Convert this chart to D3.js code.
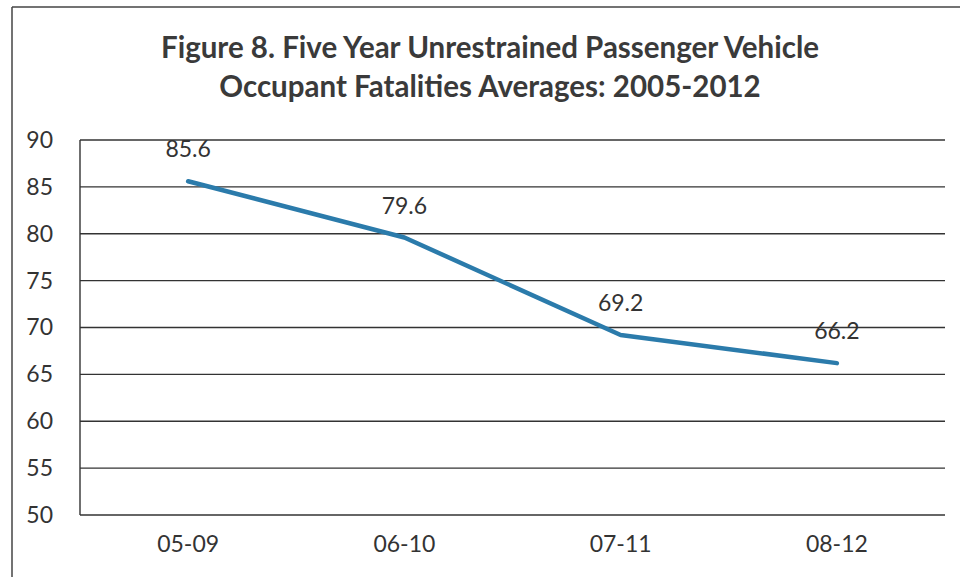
<!DOCTYPE html>
<html>
<head>
<meta charset="utf-8">
<script src="https://cdn.jsdelivr.net/npm/d3@7"></script>
<style>
  html, body { margin: 0; padding: 0; background: #fff; }
  svg { display: block; }
</style>
</head>
<body>
<svg id="chart" width="960" height="577"></svg>
<script>
const categories = ["05-09", "06-10", "07-11", "08-12"];
const values = [85.6, 79.6, 69.2, 66.2];
const yTicks = [50, 55, 60, 65, 70, 75, 80, 85, 90];
const titleLines = ["Figure 8. Five Year Unrestrained Passenger Vehicle", "Occupant Fatalities Averages: 2005-2012"];

const svg = d3.select("#chart");
const font = "Lato, 'Open Sans', sans-serif";
const textColor = "#333";

// outer frame
svg.append("line").attr("x1", 12).attr("x2", 960).attr("y1", 7).attr("y2", 7)
  .attr("stroke", "#444").attr("stroke-width", 1.5);
svg.append("line").attr("x1", 12).attr("x2", 12).attr("y1", 7).attr("y2", 577)
  .attr("stroke", "#444").attr("stroke-width", 1.5);

const plot = { left: 80, right: 945, top: 140, bottom: 515 };

const x = d3.scaleBand().domain(categories).range([plot.left, plot.right]);
const y = d3.scaleLinear().domain([50, 90]).range([plot.bottom, plot.top]);

// title
svg.append("g").selectAll("text").data(titleLines).join("text")
  .attr("x", 490)
  .attr("y", (d, i) => 58 + i * 39)
  .attr("text-anchor", "middle")
  .attr("font-family", font)
  .attr("font-weight", "bold")
  .attr("font-size", 29.5)
  .attr("fill", "#3a3a3a")
  .text(d => d);

// gridlines
svg.append("g").selectAll("line").data(yTicks).join("line")
  .attr("x1", plot.left).attr("x2", plot.right)
  .attr("y1", d => y(d)).attr("y2", d => y(d))
  .attr("stroke", "#333").attr("stroke-width", 1.4);

// left axis line
svg.append("line").attr("x1", plot.left).attr("x2", plot.left)
  .attr("y1", plot.top).attr("y2", plot.bottom)
  .attr("stroke", "#333").attr("stroke-width", 1.4);

// y axis
const yAxis = svg.append("g")
  .attr("transform", `translate(${plot.left},0)`)
  .call(d3.axisLeft(y).tickValues(yTicks).tickSize(0).tickPadding(27));
yAxis.select(".domain").remove();
yAxis.selectAll("text").attr("font-family", font).attr("font-size", 23).attr("fill", textColor);

// x axis
const xAxis = svg.append("g")
  .attr("transform", `translate(0,${plot.bottom})`)
  .call(d3.axisBottom(x).tickSize(0).tickPadding(21));
xAxis.select(".domain").remove();
xAxis.selectAll("text").attr("font-family", font).attr("font-size", 23).attr("fill", textColor);

const data = categories.map((c, i) => ({ c, v: values[i] }));
const px = d => x(d.c) + x.bandwidth() / 2;

// line
svg.append("path").datum(data)
  .attr("fill", "none")
  .attr("stroke", "#2b7bab")
  .attr("stroke-width", 4.5)
  .attr("stroke-linejoin", "round")
  .attr("stroke-linecap", "round")
  .attr("d", d3.line().x(px).y(d => y(d.v)));

// data labels
svg.append("g").selectAll("text").data(data).join("text")
  .attr("x", px)
  .attr("y", d => y(d.v) - 24)
  .attr("text-anchor", "middle")
  .attr("font-family", font)
  .attr("font-size", 23)
  .attr("fill", textColor)
  .text(d => d.v.toFixed(1));
</script>
</body>
</html>
